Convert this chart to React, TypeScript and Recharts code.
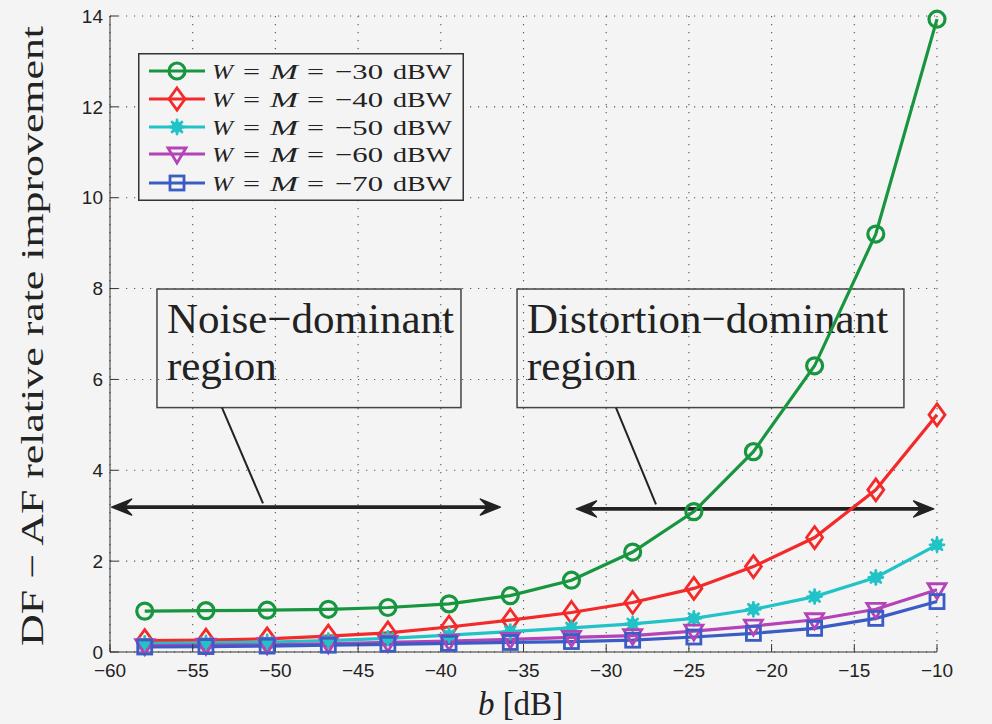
import React from 'react';
import { LineChart, Line, XAxis, YAxis, CartesianGrid, Legend, ReferenceLine, ReferenceArea } from 'recharts';

const bValues = [-57.9, -54.2, -50.5, -46.8, -43.2, -39.5, -35.8, -32.1, -28.4, -24.7, -21.1, -17.4, -13.7, -10];
const rate30 = [0.9, 0.91, 0.92, 0.94, 0.98, 1.06, 1.24, 1.58, 2.2, 3.09, 4.41, 6.3, 9.2, 13.93];
const rate40 = [0.25, 0.26, 0.29, 0.35, 0.42, 0.55, 0.7, 0.87, 1.09, 1.4, 1.88, 2.52, 3.57, 5.22];
const rate50 = [0.19, 0.2, 0.22, 0.25, 0.3, 0.37, 0.45, 0.53, 0.62, 0.74, 0.94, 1.22, 1.64, 2.36];
const rate60 = [0.14, 0.15, 0.16, 0.18, 0.21, 0.24, 0.28, 0.32, 0.36, 0.46, 0.57, 0.71, 0.94, 1.37];
const rate70 = [0.11, 0.12, 0.13, 0.15, 0.17, 0.19, 0.21, 0.23, 0.26, 0.33, 0.41, 0.52, 0.74, 1.11];

const seriesKeys = ['s30', 's40', 's50', 's60', 's70'];
const seriesPowers = ['−30', '−40', '−50', '−60', '−70'];
const seriesColors = ['#17963f', '#f42a2a', '#22c3c6', '#b543b8', '#3a5cc4'];
const seriesMarkers = ['circle', 'diamond', 'star', 'triangle', 'square'];

const xTicks = [-60, -55, -50, -45, -40, -35, -30, -25, -20, -15, -10];
const yTicks = [0, 2, 4, 6, 8, 10, 12, 14];

// annotations in data coordinates
const noiseArrowX = [-59.9, -36.4];
const noiseArrowY = 3.19;
const distArrowX = [-31.8, -10.2];
const distArrowY = 3.15;
const noiseBoxX = [-57.16, -38.78];
const distBoxX = [-35.39, -12.0];
const boxY = [5.38, 7.99];
const noisePointer = [{ x: -53.23, y: 5.38 }, { x: -50.75, y: 3.27 }];
const distPointer = [{ x: -29.41, y: 5.38 }, { x: -26.99, y: 3.25 }];
const noiseText = ['Noise−dominant', 'region'];
const distText = ['Distortion−dominant', 'region'];

const data = bValues.map((b, i) => ({
  b,
  s30: rate30[i],
  s40: rate40[i],
  s50: rate50[i],
  s60: rate60[i],
  s70: rate70[i],
}));

const BG = '#f4f4f4';
const SANS = 'Liberation Sans, Arial, sans-serif';
const SERIF = 'Liberation Serif, Times New Roman, serif';

function Marker({ kind, cx, cy, color }: { kind: string; cx: number; cy: number; color: string }) {
  if (cx == null || cy == null || isNaN(cx) || isNaN(cy)) return <g />;
  const sw = 2.8;
  switch (kind) {
    case 'circle':
      return <circle cx={cx} cy={cy} r={8} fill="none" stroke={color} strokeWidth={3.2} />;
    case 'diamond':
      return (
        <polygon
          points={`${cx},${cy - 11} ${cx + 8},${cy} ${cx},${cy + 11} ${cx - 8},${cy}`}
          fill="none"
          stroke={color}
          strokeWidth={sw}
        />
      );
    case 'star': {
      const r = 7;
      const d = r * 0.7071;
      return (
        <g stroke={color} strokeWidth={2.8} strokeLinecap="round">
          <circle cx={cx} cy={cy} r={5.5} fill={color} stroke="none" />
          <line x1={cx - r} y1={cy} x2={cx + r} y2={cy} />
          <line x1={cx} y1={cy - r} x2={cx} y2={cy + r} />
          <line x1={cx - d} y1={cy - d} x2={cx + d} y2={cy + d} />
          <line x1={cx - d} y1={cy + d} x2={cx + d} y2={cy - d} />
        </g>
      );
    }
    case 'triangle':
      return (
        <polygon
          points={`${cx - 9},${cy - 6} ${cx + 9},${cy - 6} ${cx},${cy + 9}`}
          fill="none"
          stroke={color}
          strokeWidth={sw}
        />
      );
    default:
      return <rect x={cx - 7} y={cy - 7} width={14} height={14} fill="none" stroke={color} strokeWidth={sw} />;
  }
}

const makeDot = (kind: string, color: string) => (p: any) => (
  <Marker key={`${kind}-${p.index}`} kind={kind} cx={p.cx} cy={p.cy} color={color} />
);

const ArrowShape = (p: any) => {
  const { x1, y1, x2, y2 } = p;
  const dx = x2 - x1;
  const dy = y2 - y1;
  const len = Math.hypot(dx, dy) || 1;
  const ux = dx / len;
  const uy = dy / len;
  const nx = -uy;
  const ny = ux;
  const L = 20;
  const W = 8;
  const head = (tx: number, ty: number, sx: number, sy: number) => {
    const bx = tx - sx * L;
    const by = ty - sy * L;
    const mx = tx - sx * L * 0.62;
    const my = ty - sy * L * 0.62;
    return `${tx},${ty} ${bx + nx * W},${by + ny * W} ${mx},${my} ${bx - nx * W},${by - ny * W}`;
  };
  return (
    <g>
      <line
        x1={x1 + ux * 8}
        y1={y1 + uy * 8}
        x2={x2 - ux * 8}
        y2={y2 - uy * 8}
        stroke="#222"
        strokeWidth={3.8}
      />
      <polygon points={head(x2, y2, ux, uy)} fill="#222" stroke="#222" strokeWidth={1.5} strokeLinejoin="round" />
      <polygon points={head(x1, y1, -ux, -uy)} fill="#222" stroke="#222" strokeWidth={1.5} strokeLinejoin="round" />
    </g>
  );
};

const makeBoxShape = (lines: string[]) => (p: any) => (
  <g>
    <rect x={p.x} y={p.y} width={p.width} height={p.height} fill="none" stroke="#444" strokeWidth={1.5} />
    <text x={p.x + 10} y={p.y + 44} fontFamily={SERIF} fontSize={43} fill="#222">
      {lines[0]}
    </text>
    <text x={p.x + 10} y={p.y + 91} fontFamily={SERIF} fontSize={43} fill="#222">
      {lines[1]}
    </text>
  </g>
);

const YLabel = (p: any) => {
  const vb = p && p.viewBox ? p.viewBox : { x: 60, y: 16, width: 50, height: 636 };
  const cx = 32;
  const cy = vb.y + vb.height / 2 + 2;
  return (
    <text
      x={cx}
      y={cy}
      transform={`rotate(-90 ${cx} ${cy})`}
      textAnchor="middle"
      dominantBaseline="central"
      fontFamily={SERIF}
      fontSize={32}
      fill="#222"
      textLength={620}
      lengthAdjust="spacingAndGlyphs"
    >
      DF − AF relative rate improvement
    </text>
  );
};

const RightLabel = () => {
  const cx = 963;
  const cy = 345;
  return (
    <text
      x={cx}
      y={cy}
      transform={`rotate(-90 ${cx} ${cy})`}
      textAnchor="middle"
      dominantBaseline="central"
      fontFamily={SERIF}
      fontSize={32}
      fill="#222"
      textLength={300}
      lengthAdjust="spacingAndGlyphs"
    >
      Rate  [bits/sec/Hz]
    </text>
  );
};

const XLabel = (p: any) => {
  const vb = p && p.viewBox ? p.viewBox : { x: 110, y: 652, width: 827, height: 30 };
  return (
    <text x={vb.x + vb.width / 2 - 3} y={vb.y + 63} textAnchor="middle" fontFamily={SERIF} fontSize={33} fill="#222">
      <tspan fontStyle="italic">b</tspan> [dB]
    </text>
  );
};

// legend text pieces: [x offset, stretched width]
const legendPieces = [
  { x: 74, w: 21, italic: true, text: 'W' },
  { x: 105, w: 17, italic: false, text: '=' },
  { x: 132, w: 28, italic: true, text: 'M' },
  { x: 169, w: 17, italic: false, text: '=' },
  { x: 197, w: 48, italic: false, text: '' },
  { x: 255, w: 59, italic: false, text: 'dBW' },
];

const LegendBox = () => {
  const rowY = [18, 46, 74, 101, 130];
  return (
    <svg width={326} height={148} style={{ display: 'block' }}>
      <rect x={0.75} y={0.75} width={324.5} height={146.5} fill={BG} stroke="#333" strokeWidth={1.5} />
      {seriesKeys.map((k, i) => (
        <g key={k}>
          <line x1={11} y1={rowY[i]} x2={67} y2={rowY[i]} stroke={seriesColors[i]} strokeWidth={3.2} />
          <Marker kind={seriesMarkers[i]} cx={39} cy={rowY[i]} color={seriesColors[i]} />
          {legendPieces.map((pc, j) => (
            <text
              key={j}
              x={pc.x}
              y={rowY[i] + 8}
              fontFamily={SERIF}
              fontSize={22}
              fontStyle={pc.italic ? 'italic' : 'normal'}
              fill="#222"
              textLength={pc.w}
              lengthAdjust="spacingAndGlyphs"
            >
              {pc.text || seriesPowers[i]}
            </text>
          ))}
        </g>
      ))}
    </svg>
  );
};

const minusFmt = (v: number) => String(v).replace('-', '−');
const tickStyle = { fill: '#222', fontSize: 19, fontFamily: SANS };
const axisStroke = { stroke: '#333', strokeWidth: 1 };

export default function App() {
  return (
    <div style={{ position: 'absolute', left: 0, top: 0, width: 992, height: 724, background: BG }}>
      <LineChart width={992} height={724} data={data} margin={{ top: 16, right: 55, bottom: 42, left: 60 }}>
        <CartesianGrid stroke="#555" strokeWidth={1.1} strokeDasharray="1.2 6.8" fill="none" />
        <XAxis
          dataKey="b"
          type="number"
          domain={[-60, -10]}
          ticks={xTicks}
          tickFormatter={minusFmt}
          height={30}
          tickSize={-8}
          tickMargin={20}
          tick={tickStyle}
          axisLine={axisStroke}
          tickLine={axisStroke}
          label={<XLabel />}
        />
        <XAxis
          xAxisId="top"
          orientation="top"
          dataKey="b"
          type="number"
          domain={[-60, -10]}
          ticks={xTicks}
          height={0}
          tickSize={-8}
          tick={() => <g />}
          axisLine={axisStroke}
          tickLine={axisStroke}
        />
        <YAxis
          type="number"
          domain={[0, 14]}
          ticks={yTicks}
          width={50}
          tickSize={-8}
          tickMargin={15}
          tick={tickStyle}
          axisLine={axisStroke}
          tickLine={axisStroke}
          label={<YLabel />}
        />
        <YAxis
          yAxisId="right"
          orientation="right"
          type="number"
          domain={[0, 14]}
          ticks={yTicks}
          width={0}
          tickSize={-8}
          tick={() => <g />}
          axisLine={axisStroke}
          tickLine={axisStroke}
          label={<RightLabel />}
        />
        <ReferenceArea x1={noiseBoxX[0]} x2={noiseBoxX[1]} y1={boxY[0]} y2={boxY[1]} ifOverflow="visible" shape={makeBoxShape(noiseText)} />
        <ReferenceArea x1={distBoxX[0]} x2={distBoxX[1]} y1={boxY[0]} y2={boxY[1]} ifOverflow="visible" shape={makeBoxShape(distText)} />
        <ReferenceLine segment={noisePointer} stroke="#222" strokeWidth={2} ifOverflow="visible" />
        <ReferenceLine segment={distPointer} stroke="#222" strokeWidth={2} ifOverflow="visible" />
        <ReferenceLine
          segment={[{ x: noiseArrowX[0], y: noiseArrowY }, { x: noiseArrowX[1], y: noiseArrowY }]}
          ifOverflow="visible"
          shape={ArrowShape}
        />
        <ReferenceLine
          segment={[{ x: distArrowX[0], y: distArrowY }, { x: distArrowX[1], y: distArrowY }]}
          ifOverflow="visible"
          shape={ArrowShape}
        />
        {seriesKeys.map((k, i) => (
          <Line
            key={k}
            dataKey={k}
            type="linear"
            stroke={seriesColors[i]}
            strokeWidth={3.2}
            dot={makeDot(seriesMarkers[i], seriesColors[i])}
            activeDot={false}
            isAnimationActive={false}
          />
        ))}
        <Legend
          layout="vertical"
          align="center"
          verticalAlign="middle"
          wrapperStyle={{ left: 138, top: 53, width: 326, height: 148 }}
          content={() => <LegendBox />}
        />
      </LineChart>
    </div>
  );
}
